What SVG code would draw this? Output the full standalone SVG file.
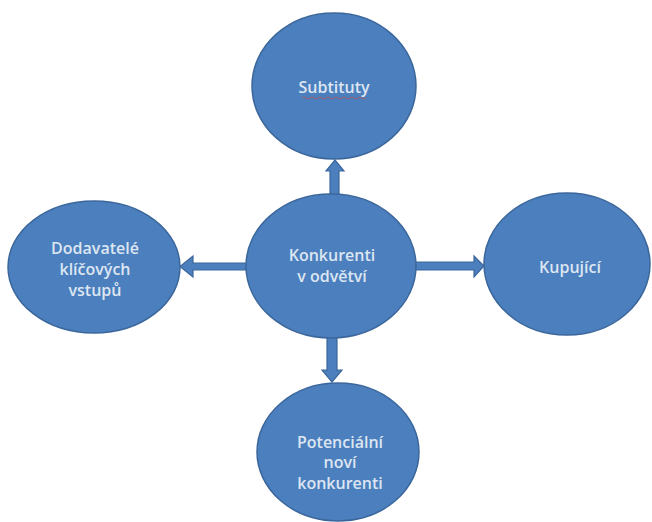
<svg xmlns="http://www.w3.org/2000/svg" width="652" height="522" viewBox="0 0 652 522">
<style>
.node ellipse{fill:#4c7fbd;stroke:#3b679c;stroke-width:1.5}
.node text{fill:#dde6f2;font-family:"Open Sans","Liberation Sans",sans-serif;font-size:16px;font-weight:600;text-anchor:middle}
.arrow{fill:#4c7fbd;stroke:#3b679c;stroke-width:1.2;stroke-linejoin:miter}
</style>
<rect width="652" height="522" fill="#ffffff"/>
<g id="connectors">
<polygon class="arrow" points="330,196 330,171 326,171 335,160 344,171 339,171 339,196"/>
<polygon class="arrow" points="246,263 193,263 193,256 180,266.5 193,277 193,270 246,270"/>
<polygon class="arrow" points="415,262 474,262 474,256 484,266 474,277 474,270 415,270"/>
<polygon class="arrow" points="327,337 327,370 322,370 332,382 342,370 337,370 337,337"/>
</g>
<g id="node-subtituty" class="node">
<ellipse cx="334" cy="86" rx="82" ry="73"/>
<text x="334" y="93">Subtituty</text>
<path d="M302,98 q2,-2 4,0 t4,0 t4,0 t4,0 t4,0 t4,0 t4,0 t4,0 t4,0 t4,0 t4,0 t4,0 t4,0 t4,0 t4,0 t4,0" fill="none" stroke="#c0504d" stroke-width="0.9" opacity="0.8"/>
</g>
<g id="node-konkurenti" class="node">
<ellipse cx="331" cy="266" rx="85" ry="72"/>
<text x="332" y="261">Konkurenti</text>
<text x="332" y="282">v odvětví</text>
</g>
<g id="node-dodavatele" class="node">
<ellipse cx="94" cy="267" rx="86" ry="66"/>
<text x="95" y="254">Dodavatelé</text>
<text x="95" y="275">klíčových</text>
<text x="95" y="296">vstupů</text>
</g>
<g id="node-kupujici" class="node">
<ellipse cx="567" cy="264" rx="83" ry="71"/>
<text x="570" y="273">Kupující</text>
</g>
<g id="node-potencialni" class="node">
<ellipse cx="338" cy="452" rx="81" ry="69"/>
<text x="340" y="448">Potenciální</text>
<text x="340" y="468">noví</text>
<text x="340" y="489">konkurenti</text>
</g>
</svg>
